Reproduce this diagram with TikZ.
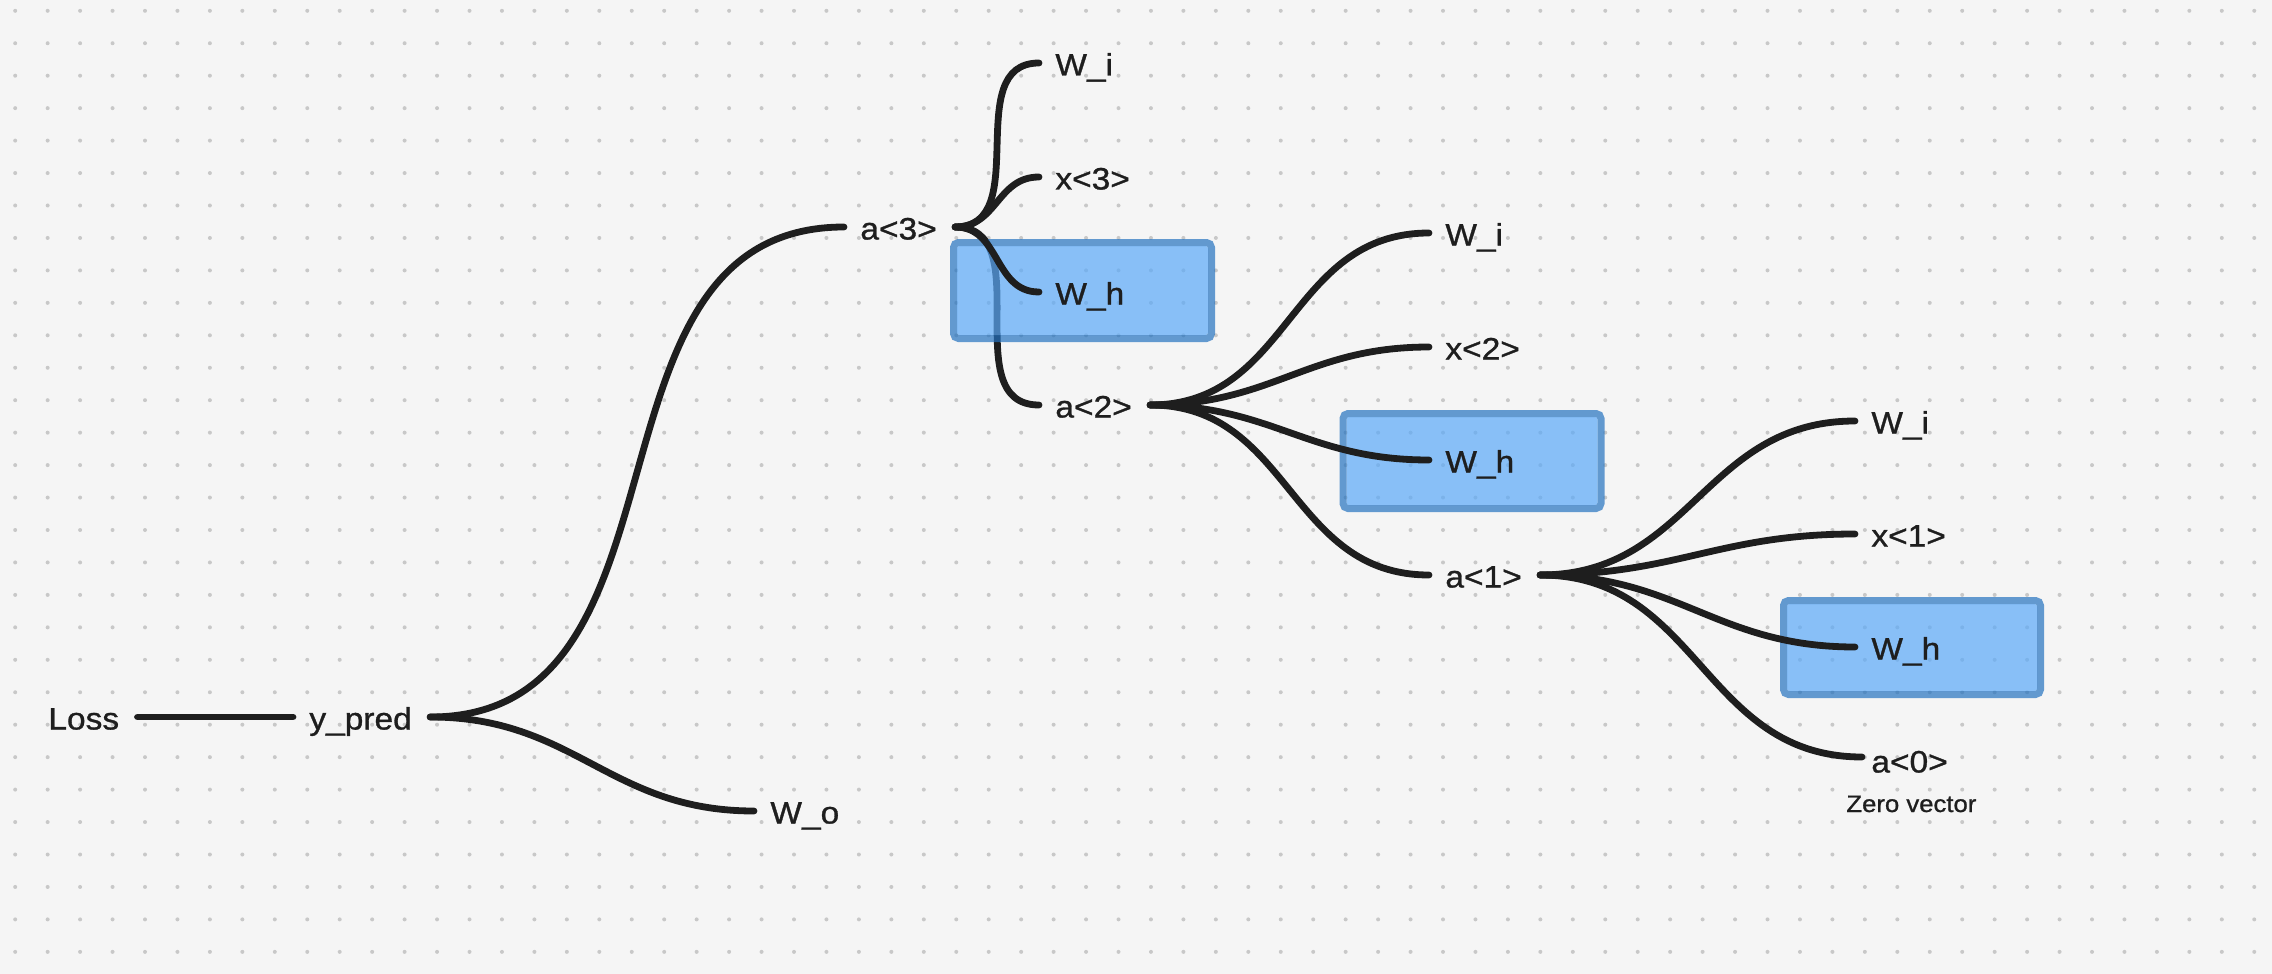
\documentclass[tikz,border=0pt]{standalone}
\usepackage{fontspec}
\setmainfont{Liberation Sans}[FakeStretch=1.08, FakeBold=1.0]
\usetikzlibrary{calc}
\definecolor{bgc}{HTML}{F5F5F5}
\definecolor{dotc}{HTML}{C8C8C8}
\definecolor{ink}{HTML}{1E1E1E}
\definecolor{boxfill}{HTML}{5BA9F8}
\definecolor{boxline}{HTML}{2472BF}
\pgfdeclarelayer{bglayer}
\pgfdeclarelayer{underlayer}
\pgfdeclarelayer{boxlayer}
\pgfsetlayers{bglayer,underlayer,boxlayer,main}
\begin{document}
\begin{tikzpicture}[x=0.5pt,y=-0.5pt,
  lbl/.style={inner sep=0pt, text height=12.5pt, text depth=0pt, anchor=west,
    font=\fontsize{15.5}{18}\selectfont, text=ink},
  smalllbl/.style={inner sep=0pt, anchor=base west,
    font=\fontsize{11.9}{14}\selectfont, text=ink},
  conn/.style={draw=ink, line width=3.4pt, line cap=round},
  curve/.style={conn, out=0, in=180, looseness=1.1},
  boxfillstyle/.style={fill=boxfill, fill opacity=0.7, rounded corners=1.2pt},
  boxedge/.style={draw=boxline, draw opacity=0.7, line width=3.5pt, rounded corners=2.5pt}]

\begin{pgfonlayer}{bglayer}
  \useasboundingbox (0,0) rectangle (2272,974);
  \fill[bgc] (0,0) rectangle (2272,974);
  \foreach \i in {0,...,69} {
    \foreach \j in {0,...,29} {
      \fill[dotc] (15.2+32.45*\i, 10.8+32.45*\j) circle (2);
    }
  }
\end{pgfonlayer}

% labels
\node[lbl] (loss)  at (48,717)   {Loss};
\node[lbl] (ypred) at (309,717)  {y\_pred};
\node[lbl] (wo)    at (770,811)  {W\_o};
\node[lbl] (a3)    at (860,227)  {a<3>};
\node[lbl] (wi3)   at (1055,63)  {W\_i};
\node[lbl] (x3)    at (1055,177) {x<3>};
\node[lbl] (wh3)   at (1055,292) {W\_h};
\node[lbl] (a2)    at (1055,405) {a<2>};
\node[lbl] (wi2)   at (1445,233) {W\_i};
\node[lbl] (x2)    at (1445,347) {x<2>};
\node[lbl] (wh2)   at (1445,460) {W\_h};
\node[lbl] (a1)    at (1445,575) {a<1>};
\node[lbl] (wi1)   at (1871,421) {W\_i};
\node[lbl] (x1)    at (1871,534) {x<1>};
\node[lbl] (wh1)   at (1871,647) {W\_h};
\node[lbl] (a0)    at (1871,760) {a<0>};
\node[smalllbl] (zero) at (1846,812) {Zero vector};

% highlight boxes
\begin{pgfonlayer}{boxlayer}
  \fill[boxfillstyle] (957,246) rectangle (1208,335);
  \draw[boxedge] (953.5,242.5) rectangle (1211.5,338.5);
  \fill[boxfillstyle] (1346.5,417) rectangle (1597.5,505);
  \draw[boxedge] (1343,413.5) rectangle (1601,508.5);
  \fill[boxfillstyle] (1787,604) rectangle (2037,691);
  \draw[boxedge] (1783.5,600.5) rectangle (2040.5,694.5);
\end{pgfonlayer}

% connectors
\draw[conn] ([xshift=9pt]loss.east) -- ([xshift=-8pt]ypred.west);
\draw[curve] ([xshift=9pt]ypred.east) to ([xshift=-8pt]a3.west);
\draw[curve] ([xshift=9pt]ypred.east) to ([xshift=-8pt]wo.west);

\draw[curve] ([xshift=9pt]a3.east) to ([xshift=-8pt]wi3.west);
\draw[curve] ([xshift=9pt]a3.east) to ([xshift=-8pt]x3.west);
\draw[curve] ([xshift=9pt]a3.east) to ([xshift=-8pt]wh3.west);
\begin{pgfonlayer}{underlayer}
  \draw[curve] ([xshift=9pt]a3.east) to ([xshift=-8pt]a2.west);
\end{pgfonlayer}

\draw[curve] ([xshift=9pt]a2.east) to ([xshift=-8pt]wi2.west);
\draw[curve] ([xshift=9pt]a2.east) to ([xshift=-8pt]x2.west);
\draw[curve] ([xshift=9pt]a2.east) to ([xshift=-8pt]wh2.west);
\draw[curve] ([xshift=9pt]a2.east) to ([xshift=-8pt]a1.west);

\draw[curve] ([xshift=9pt]a1.east) to ([xshift=-8pt]wi1.west);
\draw[curve] ([xshift=9pt]a1.east) to ([xshift=-8pt]x1.west);
\draw[curve] ([xshift=9pt]a1.east) to ([xshift=-8pt]wh1.west);
\draw[curve] ([xshift=9pt]a1.east) to ([shift={(-9,-3)}]a0.west);
\end{tikzpicture}
\end{document}
